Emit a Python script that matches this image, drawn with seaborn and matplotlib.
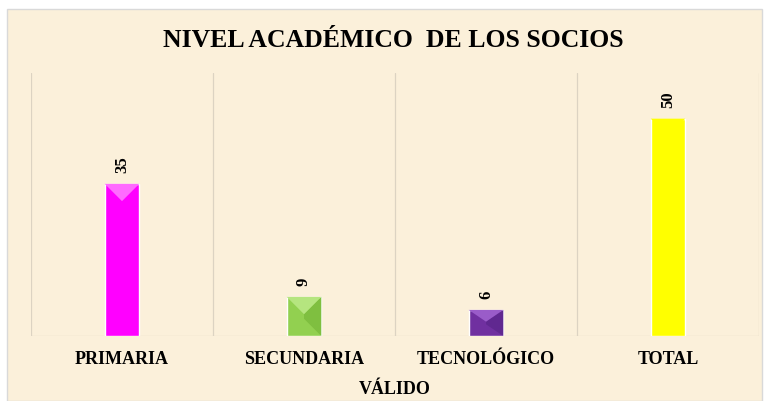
import numpy as np
import pandas as pd
import matplotlib
matplotlib.use("Agg")
import matplotlib.pyplot as plt
import matplotlib.patches as mpatches
import seaborn as sns

categorias = ["PRIMARIA", "SECUNDARIA", "TECNOLÓGICO", "TOTAL"]
valores = [35, 9, 6, 50]
colores = ["#FF00FF", "#92D050", "#7030A0", "#FFFF00"]
colores_luz = ["#FF6BFF", "#B5E57F", "#9A5CC9", "#FFFF00"]
colores_sombra = ["#E600E6", "#7FBF40", "#602890", "#FFFF00"]
titulo = "NIVEL ACADÉMICO  DE LOS SOCIOS"
eje_x = "VÁLIDO"

sns.set_style("white")
plt.rcParams["font.family"] = ["Liberation Serif", "DejaVu Serif"]
plt.rcParams["text.color"] = "black"
plt.rcParams["xtick.color"] = "black"
plt.rcParams["axes.labelcolor"] = "black"

fondo = "#FBF0DA"
fig = plt.figure(figsize=(7.69, 4.01), dpi=100)
fig.patch.set_facecolor("white")
# panel de fondo tipo pergamino
fig.patches.append(mpatches.Rectangle((7 / 769, 0), 755 / 769, 392 / 401,
                                      transform=fig.transFigure, facecolor=fondo,
                                      edgecolor="#D9D9D9", lw=1, zorder=-5))

ax = fig.add_axes([31 / 769, 65 / 401, 728 / 769, 263 / 401])
ax.set_facecolor("none")

df = pd.DataFrame({"nivel": categorias, "socios": valores})
sns.barplot(data=df, x="nivel", y="socios", hue="nivel", palette=colores,
            width=0.19, saturation=1, legend=False, ax=ax, zorder=3)

ax.set_xlim(-0.5, 3.5)
ax.set_ylim(0, 60.5)
for b in np.arange(-0.5, 4):
    ax.axvline(b, color="#DCD3C2", lw=0.9, zorder=1)
ax.axhline(0, color="#DCD3C2", lw=0.9, zorder=1)
sns.despine(ax=ax, left=True, bottom=True)

# efecto bisel: cara superior clara; en barras bajas, cara derecha mas oscura
trans = ax.transData
for patch, cl, cs in zip(ax.patches, colores_luz, colores_sombra):
    x0, w, h = patch.get_x(), patch.get_width(), patch.get_height()
    (px0, py0), (px1, _) = trans.transform([(x0, h), (x0 + w, h)])
    (_, py_base) = trans.transform((x0, 0))
    alto, ancho = py0 - py_base, px1 - px0
    depth = min(ancho / 2, alto * 0.45)
    ya = trans.inverted().transform((px0, py0 - depth))[1]
    if alto < 2 * ancho:
        yb = trans.inverted().transform((px0, py_base + depth))[1]
        ax.add_patch(mpatches.Polygon([(x0 + w, h), (x0 + w / 2, ya), (x0 + w / 2, min(yb, ya)), (x0 + w, 0)],
                                      closed=True, facecolor=cs, edgecolor="none", zorder=4))
    ax.add_patch(mpatches.Polygon([(x0, h), (x0 + w, h), (x0 + w / 2, ya)],
                                  closed=True, facecolor=cl, edgecolor="none", zorder=4))

for cont in ax.containers:
    ax.bar_label(cont, rotation=90, padding=8, fontsize=12, fontweight="bold")

ax.set_yticks([])
ax.set_ylabel("")
ax.tick_params(axis="x", length=0, pad=11, labelsize=13)
for t in ax.get_xticklabels():
    t.set_fontweight("bold")
ax.set_xlabel(eje_x, fontsize=13, fontweight="bold", labelpad=9)

fig.text(0.512, 0.90, titulo, ha="center", va="center", fontsize=18.5, fontweight="bold")

fig.savefig("out.png", dpi=100)
